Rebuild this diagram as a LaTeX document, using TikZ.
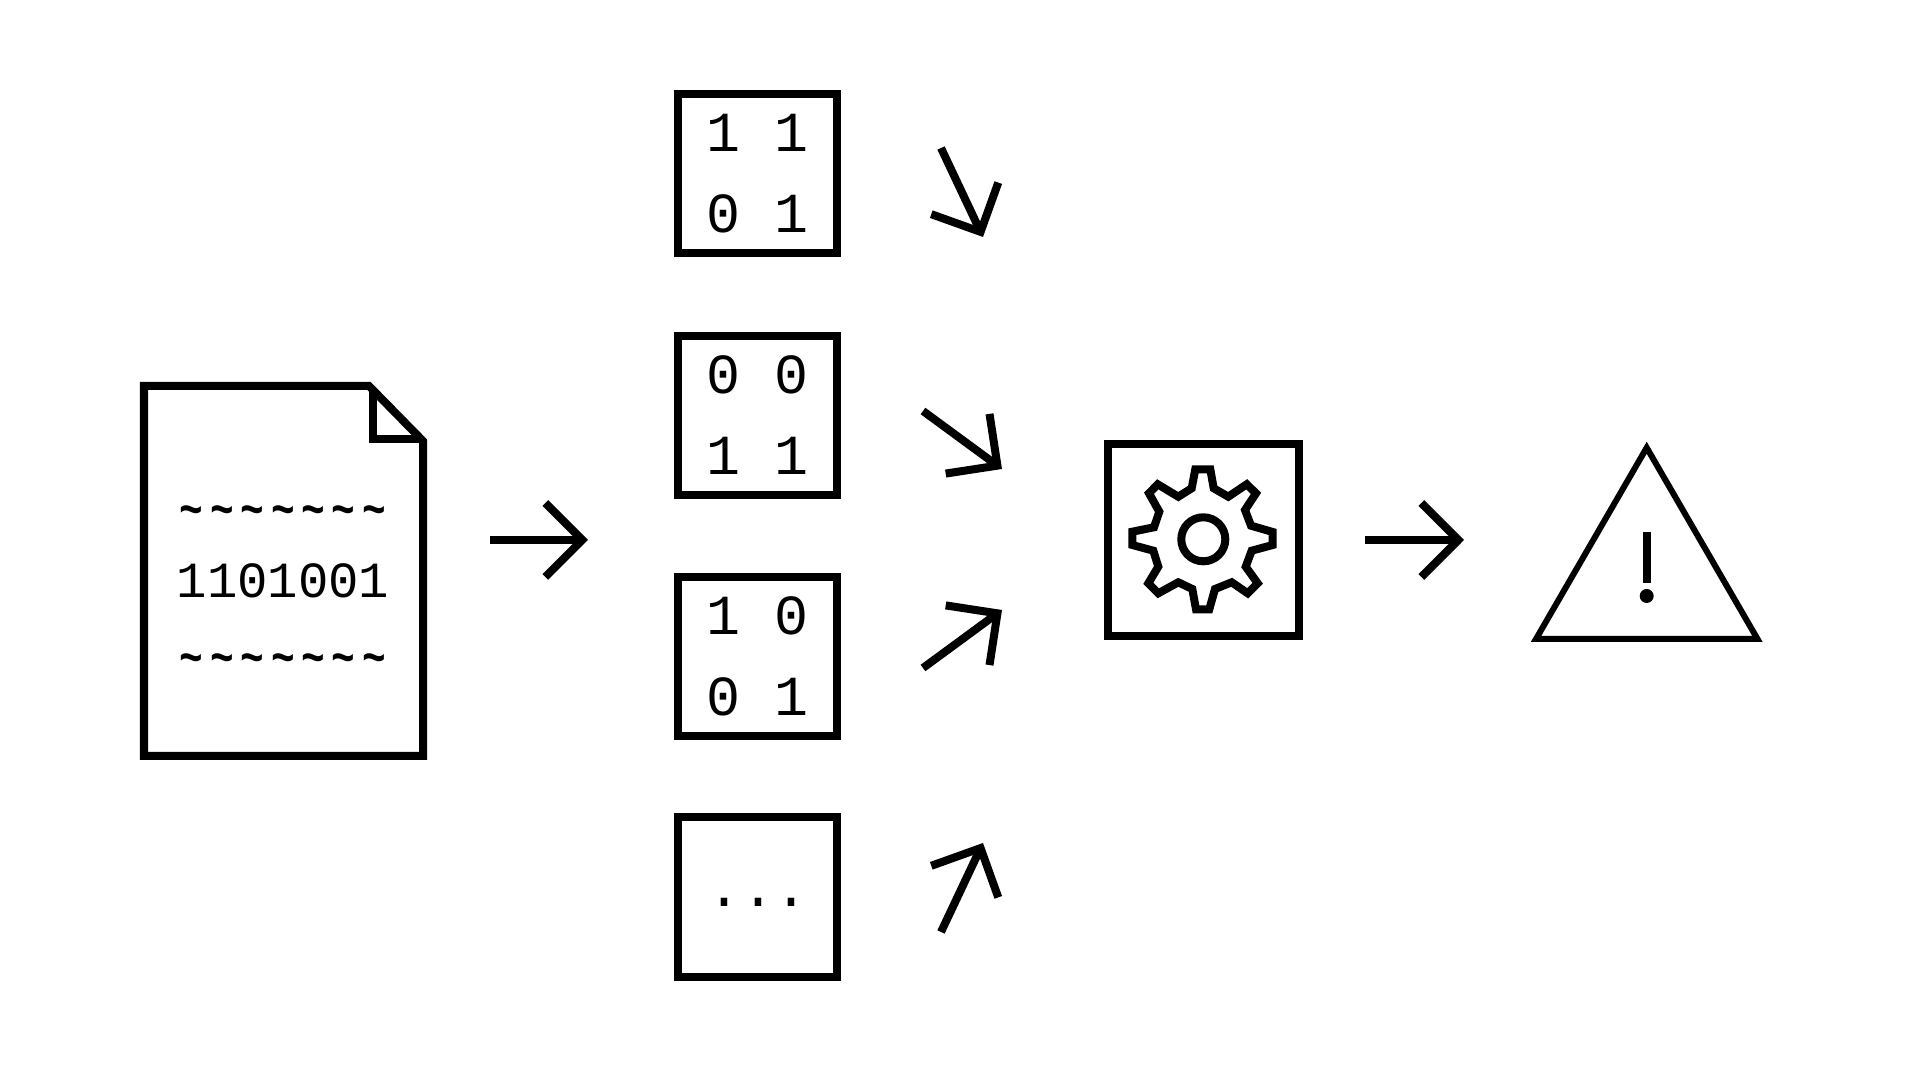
\documentclass[tikz,border=0pt]{standalone}
\usepackage{fontspec}
\setmonofont{Liberation Mono}
\usetikzlibrary{arrows.meta}
\tikzset{
  thick line/.style={line width=0.08cm, line join=miter},
  flow/.style={line width=0.08cm, -{Straight Barb[length=0.37cm,width=0.74cm]}},
  bitbox/.style={thick line, draw, minimum size=1.59cm, inner sep=0pt, align=center,
    font=\ttfamily\fontsize{16.1pt}{23pt}\selectfont},
  doctext/.style={inner sep=0pt, font=\ttfamily\fontsize{14.4pt}{17pt}\selectfont}
}
\newcommand{\wavy}{\makebox[0.304cm]{\scalebox{0.78}[1]{\textbf{\textasciitilde}}}}
\newcommand{\wavyrow}{\wavy\wavy\wavy\wavy\wavy\wavy\wavy}
\begin{document}
\begin{tikzpicture}[x=0.01cm, y=-0.01cm]
\fill[white] (0,0) rectangle (1920,1080);
\useasboundingbox (0,0) rectangle (1920,1080);
% document
\draw[thick line] (144,386) -- (369,386) -- (423,441) -- (423,756) -- (144,756) -- cycle;
\draw[thick line] (373,388) -- (373,439) -- (423,439);
\node[doctext] (tildeup) at (283,516) {\wavyrow};
\node[doctext] (bits) at (283,581) {1101001};
\node[doctext] (tildedown) at (283,664) {\wavyrow};
% bit boxes
\node[bitbox] (box1) at (757.5,173.5) {1 1\\0 1};
\node[bitbox] (box2) at (757.5,415.5) {0 0\\1 1};
\node[bitbox] (box3) at (757.5,656.5) {1 0\\0 1};
\node[bitbox] (box4) at (757.5,897) {};
\node[inner sep=0pt, font=\ttfamily\fontsize{16.1pt}{23pt}\selectfont] (dots) at (758,902) {...};
% gear
\node[thick line, draw, minimum size=1.91cm, inner sep=0pt] (gearbox) at (1203.5,540) {};
\draw[thick line] (1195.3,469.3) -- (1210.3,469.3) -- (1213.7,488.3) -- (1228.3,496.7)
  -- (1246.7,484.3) -- (1256,493.3) -- (1245,510) -- (1251,525.7)
  -- (1272.7,532) -- (1272.7,545) -- (1251.7,550.7) -- (1245.7,566.7)
  -- (1257.7,583.3) -- (1247.7,593.3) -- (1231.7,582.3) -- (1215,589)
  -- (1209.3,609.3) -- (1196,609.3) -- (1192.3,589) -- (1178.3,582.3)
  -- (1158.3,593.3) -- (1148.3,583.3) -- (1158.3,566.7) -- (1153.3,550.7)
  -- (1132.3,545) -- (1132.3,531.7) -- (1154,527.3) -- (1159.3,511.7)
  -- (1149,493.3) -- (1157.7,484.3) -- (1178.3,496.7) -- (1191.7,488.3) -- cycle;
\draw[thick line] (1203.3,539.3) circle (0.22cm);
% warning
\draw[line width=0.06cm] (1646.7,447.7) -- (1757.5,639) -- (1536,639) -- cycle;
\draw[thick line] (1646.7,531.7) -- (1646.7,583);
\fill (1646.7,596) circle (0.07cm);
% arrows
\coordinate (in) at (490,540);
\coordinate (out) at (588,540);
\coordinate (a1) at (941,148);
\coordinate (b1) at (983,237);
\coordinate (a2) at (923,411);
\coordinate (b2) at (1002,469);
\coordinate (a3) at (923,668);
\coordinate (b3) at (1002,610);
\coordinate (a4) at (941,932);
\coordinate (b4) at (983,843);
\coordinate (c) at (1365,540);
\coordinate (d) at (1464,540);
\foreach \s/\e in {in/out,a1/b1,a2/b2,a3/b3,a4/b4,c/d}
  \draw[flow] (\s) -- (\e);
\end{tikzpicture}
\end{document}
